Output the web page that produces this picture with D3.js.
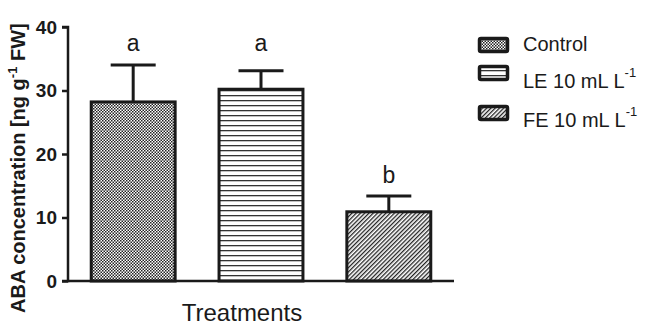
<!DOCTYPE html>
<html><head><meta charset="utf-8">
<script src="https://cdn.jsdelivr.net/npm/d3@7"></script>
<style>body{margin:0;background:#fff}svg{display:block}text{font-family:"Liberation Sans",Arial,sans-serif;fill:#1a1a1a}</style>
</head><body>
<svg id="c" width="646" height="326"></svg>
<script>
const categories = ["Control", "LE 10 mL L", "FE 10 mL L"];
const means = [28.2, 30.2, 10.9];
const errors = [5.8, 2.9, 2.5];
const letters = ["a", "a", "b"];
const letterValues = [36.2, 36.2, 15.4];
const yTicks = [0, 10, 20, 30, 40];
const patterns = ["pCheck", "pHoriz", "pDiag"];

const svg = d3.select("#c");
const ink = "#1a1a1a";
const defs = svg.append("defs");
// checker
const p1 = defs.append("pattern").attr("id","pCheck").attr("patternUnits","userSpaceOnUse").attr("width",3).attr("height",3);
p1.append("rect").attr("width",3).attr("height",3).attr("fill","#fff");
p1.append("rect").attr("width",1.5).attr("height",1.5).attr("fill","#222");
p1.append("rect").attr("x",1.5).attr("y",1.5).attr("width",1.5).attr("height",1.5).attr("fill","#222");
// horizontal
const p2 = defs.append("pattern").attr("id","pHoriz").attr("patternUnits","userSpaceOnUse").attr("width",8).attr("height",5);
p2.append("rect").attr("width",8).attr("height",5).attr("fill","#fff");
p2.append("rect").attr("y",0).attr("width",8).attr("height",1.3).attr("fill","#333");
// diagonal
const p3 = defs.append("pattern").attr("id","pDiag").attr("patternUnits","userSpaceOnUse").attr("width",3).attr("height",6).attr("patternTransform","rotate(45)");
p3.append("rect").attr("width",3).attr("height",6).attr("fill","#fff");
p3.append("rect").attr("width",1.3).attr("height",6).attr("fill","#222");

const x = d3.scaleBand().domain(categories).range([68, 454]).paddingInner(0.32).paddingOuter(0.17);
const y = d3.scaleLinear().domain([0, 40]).range([281, 27]);

// bars
const g = svg.append("g");
categories.forEach((c, i) => {
  const cx = x(c) + x.bandwidth()/2;
  g.append("line").attr("x1",cx).attr("x2",cx).attr("y1",y(means[i])).attr("y2",y(means[i]+errors[i])).attr("stroke",ink).attr("stroke-width",3);
  g.append("line").attr("x1",cx-22.5).attr("x2",cx+22.5).attr("y1",y(means[i]+errors[i])).attr("y2",y(means[i]+errors[i])).attr("stroke",ink).attr("stroke-width",3);
  g.append("rect").attr("x",x(c)+1.5).attr("y",y(means[i])).attr("width",x.bandwidth()-3).attr("height",y(0)-y(means[i]))
    .attr("fill",`url(#${patterns[i]})`).attr("stroke",ink).attr("stroke-width",3);
  g.append("text").attr("x",cx).attr("y",y(letterValues[i])).attr("text-anchor","middle").attr("font-size",23).text(letters[i]);
});

// axes
const ya = svg.append("g").attr("transform","translate(68,0)")
  .call(d3.axisLeft(y).tickValues(yTicks).tickSize(6).tickPadding(5));
ya.attr("font-family",null).attr("font-size",null);
ya.select(".domain").attr("stroke",ink).attr("stroke-width",2.5).attr("d","M-6,281H0V27H-6");
ya.selectAll(".tick line").attr("stroke",ink).attr("stroke-width",2.5);
ya.selectAll(".tick text").attr("font-size",19).attr("font-weight","bold").attr("fill",ink);
svg.append("line").attr("x1",68).attr("x2",454).attr("y1",y(0)).attr("y2",y(0)).attr("stroke",ink).attr("stroke-width",2.5);

// axis titles
svg.append("text").attr("x",242).attr("y",321).attr("text-anchor","middle").attr("font-size",24).text("Treatments");
const yt = svg.append("text").attr("transform","translate(25,313) rotate(-90)").attr("font-size",20).attr("font-weight","bold");
yt.append("tspan").text("ABA concentration [ng g");
yt.append("tspan").attr("font-size",13).attr("dy",-8).text("-1");
yt.append("tspan").attr("dy",8).text(" FW]");

// legend
const legY = [37, 65, 105];
const legBase = [51, 88, 127];
categories.forEach((c, i) => {
  svg.append("rect").attr("x",479.5).attr("y",legY[i]+1.5).attr("width",28).attr("height",13).attr("rx",1.5)
    .attr("fill",`url(#${patterns[i]})`).attr("stroke",ink).attr("stroke-width",3.5);
  const t = svg.append("text").attr("x",523).attr("y",legBase[i]).attr("font-size",20);
  t.append("tspan").text(c);
  if (i > 0) t.append("tspan").attr("font-size",13).attr("dy",-11).text("-1");
});
</script>
</body></html>
